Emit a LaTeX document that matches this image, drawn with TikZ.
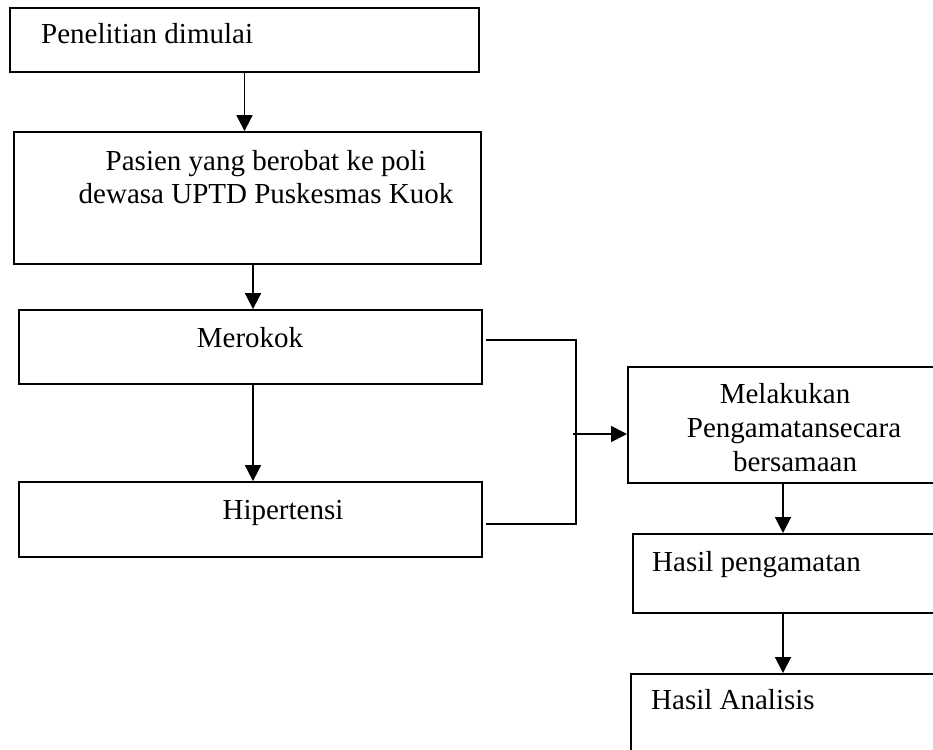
\documentclass[tikz,border=0pt]{standalone}
\usepackage{fontspec}
\setmainfont{Liberation Serif}
\usetikzlibrary{arrows.meta}
\begin{document}
\begin{tikzpicture}[x=1pt,y=-1pt,
  box/.style={draw,line width=1.8pt,rectangle,inner sep=0pt},
  txt/.style={inner sep=0pt,font=\fontsize{29}{34}\selectfont},
  conn/.style={line width=1.8pt},
  arr/.style={line width=1.8pt,-{Triangle[width=16pt,length=16pt]}}]
\useasboundingbox (0,0) rectangle (933,749);
\clip (0,0) rectangle (933,749);
\node[box,minimum width=469pt,minimum height=64pt] (b1) at (244.5,40) {};
\node[box,minimum width=467pt,minimum height=132pt] (b2) at (247.5,198) {};
\node[box,minimum width=463pt,minimum height=74pt] (b3) at (250.5,347) {};
\node[box,minimum width=463pt,minimum height=75pt] (b4) at (250.5,519.5) {};
\node[box,minimum width=340pt,minimum height=116pt,anchor=north west] (b5) at (627,366) {};
\node[box,minimum width=340pt,minimum height=79pt,anchor=north west] (b6) at (632,533) {};
\node[box,minimum width=340pt,minimum height=107pt,anchor=north west] (b7) at (630,673) {};
% texts
\node[txt,anchor=base west] (t1) at (41,44) {Penelitian dimulai};
\node[txt,anchor=base] (t2a) at (266,170) {Pasien yang berobat ke poli};
\node[txt,anchor=base] (t2b) at (266,203) {dewasa UPTD Puskesmas Kuok};
\node[txt,anchor=base] (t3) at (250,347) {Merokok};
\node[txt,anchor=base] (t4) at (283,519) {Hipertensi};
\node[txt,anchor=base] (t5a) at (785,403) {Melakukan};
\node[txt,anchor=base] (t5b) at (794,437) {Pengamatansecara};
\node[txt,anchor=base] (t5c) at (795,471) {bersamaan};
\node[txt,anchor=base west] (t6) at (652,571) {Hasil pengamatan};
\node[txt,anchor=base west] (t7) at (651,709) {Hasil Analisis};
% connectors
\draw[arr] (b1.south) -- (b1.south |- b2.north);
\draw[arr] ([xshift=5.5pt]b2.south) -- ([xshift=5.5pt]b2.south |- b3.north);
\draw[arr] ([xshift=2.5pt]b3.south) -- ([xshift=2.5pt]b3.south |- b4.north);
\coordinate (jt) at (576,340);
\coordinate (jb) at (576,524);
\coordinate (jm) at (573,434);
\draw[conn] ([xshift=3pt]b3.east |- jt) -- (jt) -- (jb) -- ([xshift=3pt]b4.east |- jb);
\draw[arr] (jm) -- (b5.west |- jm);
\draw[arr] (783,482) -- (783,533);
\draw[arr] (783,612) -- (783,673);
\end{tikzpicture}
\end{document}
